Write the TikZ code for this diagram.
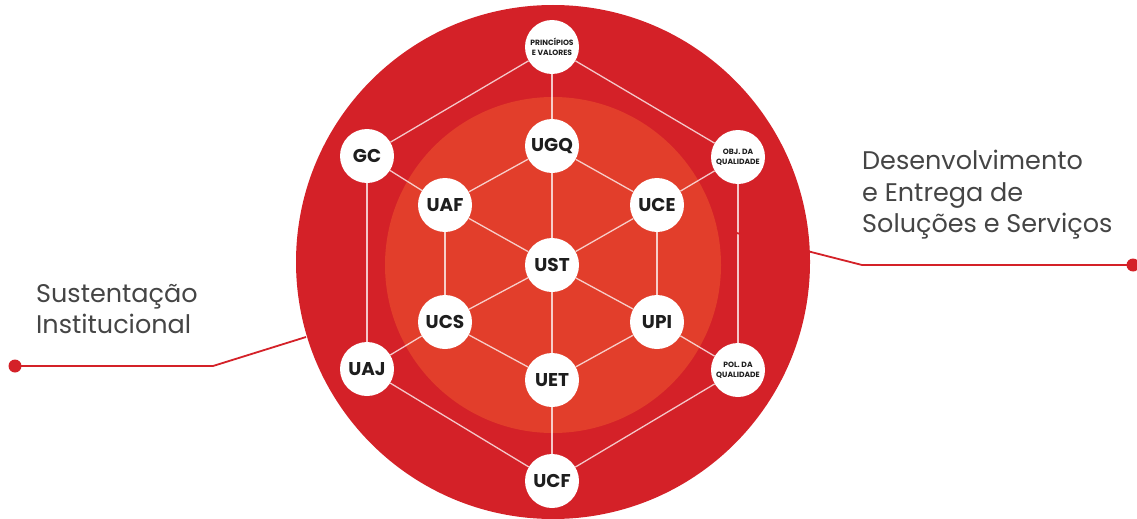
\documentclass[tikz,border=0pt]{standalone}
\usepackage{fontspec}
\setmainfont{Poppins}
\usetikzlibrary{backgrounds}
\definecolor{outerred}{HTML}{D42128}
\definecolor{innerred}{HTML}{E23E2B}
\definecolor{txtgray}{HTML}{454545}
\definecolor{nodetxt}{HTML}{1E1E1E}
\tikzset{
  unit/.style={circle, fill=white, minimum size=54pt, inner sep=0pt, text=nodetxt,
    font=\fontsize{18.5}{18.5}\selectfont\bfseries},
  smallunit/.style={unit, align=center, font=\fontsize{7.6}{9.5}\selectfont\bfseries},
  link/.style={draw=white, draw opacity=0.75, line width=1.3pt},
  leader/.style={draw=outerred, line width=1.8pt},
  caption/.style={anchor=north west, align=left, text=txtgray, inner sep=0pt,
    font=\fontsize{25.5}{31.5}\selectfont}
}
\begin{document}
\begin{tikzpicture}[x=1pt,y=-1pt]
\useasboundingbox (0,0) rectangle (1137,519);
\begin{pgfonlayer}{background}
  \fill[white] (0,0) rectangle (1137,519);
  \fill[outerred] (553,262) circle (257);
  \fill[innerred] (553,265) circle (168);
\end{pgfonlayer}

% nodes
\node[smallunit] (pv) at (552,47) {PRINCÍPIOS\\E VALORES};
\node[unit] (gc) at (367,156) {GC};
\node[smallunit] (obj) at (738,157) {OBJ. DA\\QUALIDADE};
\node[unit] (ugq) at (552,146) {UGQ};
\node[unit] (uaf) at (445,205) {UAF};
\node[unit] (uce) at (657,205) {UCE};
\node[unit] (ust) at (552,265) {UST};
\node[unit] (ucs) at (445,322) {UCS};
\node[unit] (upi) at (657,322) {UPI};
\node[unit] (uaj) at (367,369) {UAJ};
\node[smallunit] (pol) at (738,370) {POL. DA\\QUALIDADE};
\node[unit] (uet) at (552,380) {UET};
\node[unit] (ucf) at (552,481) {UCF};

\begin{pgfonlayer}{background}
  % outer hexagon
  \draw[link] (pv) -- (gc);
  \draw[link] (gc) -- (uaj);
  \draw[link] (uaj) -- (ucf);
  \draw[link] (ucf) -- (pol);
  \draw[link] (pol) -- (obj);
  \draw[link] (obj) -- (pv);
  % spokes
  \draw[link] (pv) -- (ugq);
  \draw[link] (gc) -- (uaf);
  \draw[link] (obj) -- (uce);
  \draw[link] (uaj) -- (ucs);
  \draw[link] (pol) -- (upi);
  \draw[link] (ucf) -- (uet);
  % inner hexagon
  \draw[link] (ugq) -- (uaf);
  \draw[link] (uaf) -- (ucs);
  \draw[link] (ucs) -- (uet);
  \draw[link] (uet) -- (upi);
  \draw[link] (upi) -- (uce);
  \draw[link] (uce) -- (ugq);
  % centre
  \draw[link] (ust) -- (ugq);
  \draw[link] (ust) -- (uaf);
  \draw[link] (ust) -- (uce);
  \draw[link] (ust) -- (ucs);
  \draw[link] (ust) -- (upi);
  \draw[link] (ust) -- (uet);
\end{pgfonlayer}

% captions
\node[caption] (sus) at (36,284) {Sustentação\\Institucional};
\node[caption] (des) at (862,150) {Desenvolvimento\\e Entrega de\\Soluções e Serviços};

% leaders
\coordinate (lend) at (306,337);
\coordinate (lknee) at (213,366);
\coordinate (ldot) at (15,366);
\draw[leader] (lend) -- (lknee) -- (ldot);
\fill[outerred] (ldot) circle (6.5);

\coordinate (rstart) at (717,228);
\coordinate (rknee) at (862,265);
\coordinate (rdot) at (1133,265);
\draw[leader] (rstart) -- (rknee) -- (rdot);
\fill[outerred] (rdot) circle (6.5);
\end{tikzpicture}
\end{document}
